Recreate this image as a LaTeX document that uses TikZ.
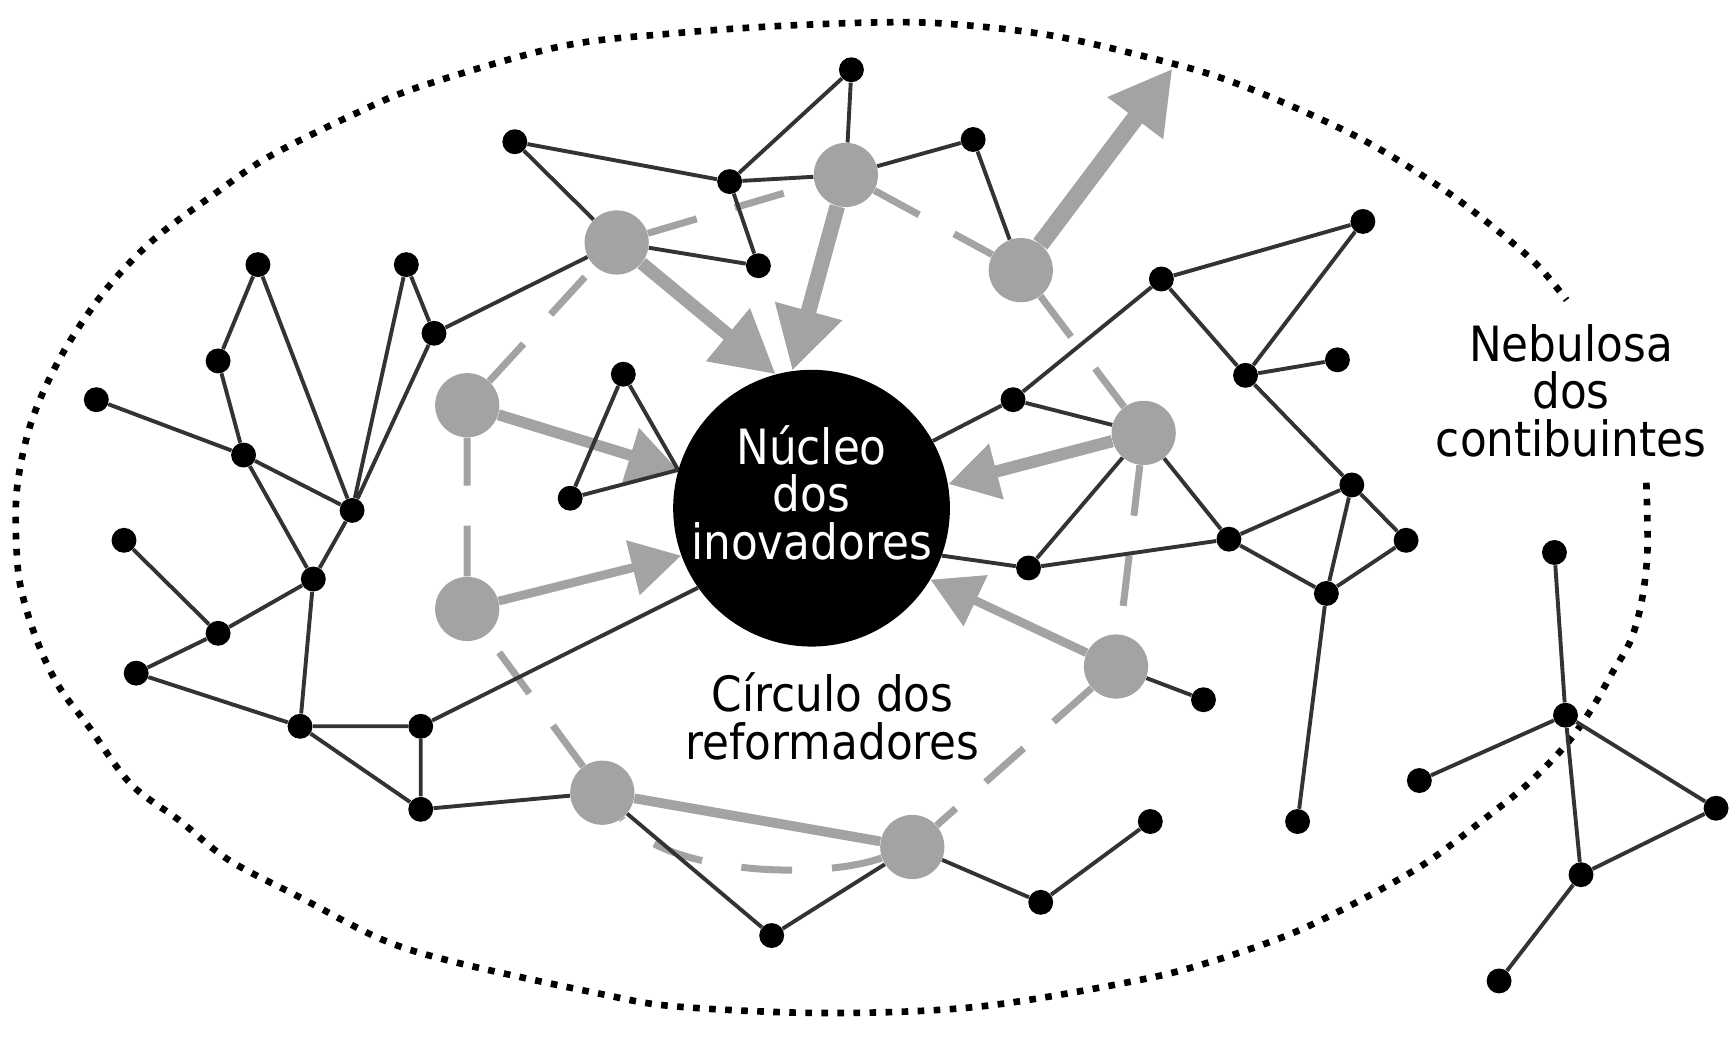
\documentclass[tikz,border=0pt]{standalone}
\usepackage{fontspec}
\setmainfont{DejaVu Sans}[FakeStretch=0.9]
\usetikzlibrary{arrows.meta}
\pgfdeclarelayer{bg}
\pgfsetlayers{bg,main}
\definecolor{ggray}{gray}{0.64}
\definecolor{edgec}{gray}{0.2}
\begin{document}
\begin{tikzpicture}[x=0.02cm,y=-0.02cm,
  bn/.style={circle,fill=black,inner sep=0pt,minimum size=0.45cm},
  gn/.style={circle,fill=ggray,inner sep=0pt,minimum size=1.16cm},
  nucleus/.style={circle,fill=black,inner sep=0pt,minimum size=5cm},
  edge/.style={draw=edgec,line width=2pt},
  garrow/.style={draw=ggray,line width=#1,-{Triangle[length=0.9cm,width=0.98cm]}},
  bigarrow/.style={draw=ggray,line width=#1,-{Triangle[length=1.12cm,width=1.18cm]}},
  gline/.style={draw=ggray,line width=5pt},
  ring/.style={draw=ggray,line width=3.6pt,dash pattern=on 0.92cm off 0.72cm},
  outline/.style={draw=black,line width=0.12cm,dash pattern=on 0.12cm off 0.17cm},
  lbl/.style={align=center,font=\fontsize{25}{24.5}\selectfont,inner sep=0pt}]
\useasboundingbox (0,0) rectangle (1568,941);

% nucleus
\node[nucleus] (N) at (733,459) {};
\node[lbl,text=white] (Ntext) at (733,445) {Núcleo\\dos\\inovadores};

% gray reformer nodes
\node[gn] (G1) at (557,219) {};
\node[gn] (G2) at (764,158) {};
\node[gn] (G3) at (922,244) {};
\node[gn] (G4) at (422,366) {};
\node[gn] (G5) at (1033,391) {};
\node[gn] (G6) at (422,550) {};
\node[gn] (G7) at (1008,602) {};
\node[gn] (G8) at (544,716) {};
\node[gn] (G9) at (824,765) {};
\coordinate (g3tip) at (1059,62);

% black contributor nodes
\node[bn] (b1) at (465,128) {};
\node[bn] (b2) at (659,164) {};
\node[bn] (b3) at (769,63) {};
\node[bn] (b4) at (879,126) {};
\node[bn] (b5) at (685,240) {};
\node[bn] (b6) at (233,239) {};
\node[bn] (b7) at (367,239) {};
\node[bn] (b8) at (392,301) {};
\node[bn] (b9) at (197,326) {};
\node[bn] (b10) at (87,361) {};
\node[bn] (b11) at (220,411) {};
\node[bn] (b12) at (318,461) {};
\node[bn] (b13) at (112,488) {};
\node[bn] (b14) at (283,523) {};
\node[bn] (b15) at (197,572) {};
\node[bn] (b16) at (123,608) {};
\node[bn] (b17) at (271,656) {};
\node[bn] (b18) at (380,656) {};
\node[bn] (b19) at (380,731) {};
\node[bn] (b20) at (563,338) {};
\node[bn] (b21) at (515,450) {};
\node[bn] (b22) at (1049,252) {};
\node[bn] (b23) at (1231,200) {};
\node[bn] (b24) at (1125,339) {};
\node[bn] (b25) at (1208,325) {};
\node[bn] (b26) at (915,361) {};
\node[bn] (b27) at (1221,438) {};
\node[bn] (b28) at (1110,487) {};
\node[bn] (b29) at (1270,488) {};
\node[bn] (b30) at (929,513) {};
\node[bn] (b31) at (1198,536) {};
\node[bn] (b32) at (1087,632) {};
\node[bn] (b33) at (1172,742) {};
\node[bn] (b34) at (1039,742) {};
\node[bn] (b35) at (940,815) {};
\node[bn] (b36) at (697,845) {};
\node[bn] (b37) at (1404,499) {};
\node[bn] (b38) at (1414,646) {};
\node[bn] (b39) at (1282,705) {};
\node[bn] (b40) at (1550,730) {};
\node[bn] (b41) at (1428,790) {};
\node[bn] (b42) at (1354,886) {};

% labels
\node[lbl] (neb) at (1419,353) {Nebulosa\\dos\\contibuintes};
\node[lbl] (circ) at (752,647) {Círculo dos\\reformadores};

\begin{pgfonlayer}{bg}
% nebula outline
\draw[outline] plot[smooth,tension=0.55] coordinates {
 (1487,436) (1488,497) (1483,542) (1473,578) (1456,608) (1439,638) (1415,672)
 (1380,708) (1339,741) (1287,780) (1229,813) (1167,843) (1099,867) (1030,885)
 (886,909) (748,915) (610,909) (539,897) (415,870) (346,849) (270,810)
 (207,777) (162,741) (118,708) (80,656) (55,623) (38,590) (24,551) (16,512)
 (15,445) (28,382) (55,322) (93,265) (138,217) (194,175) (242,142) (318,104)
 (380,78) (506,42) (610,30) (713,23) (817,20) (886,24) (955,33) (1030,50)
 (1099,69) (1167,96) (1236,129) (1305,172) (1356,211) (1390,241) (1415,271)};

% circle of reformers
\draw[ring] (G1) -- (G2) -- (G3) -- (G5) -- (G7) -- (G9)
  .. controls (740,795) and (600,790) .. (G8) -- (G6) -- (G4) -- (G1);
\draw[gline] (G8) -- (G9);

% gray arrows
\draw[bigarrow=6.8pt] (G1) -- (N.105);
\draw[bigarrow=8pt] (G2) -- (N.98);
\draw[bigarrow=9pt] (G3) -- (g3tip);
\draw[garrow=5.7pt] (G4) -- (N.164);
\draw[garrow=4.5pt] (G6) -- (N.200);
\draw[garrow=6.3pt] (G5) -- (N.10);
\draw[garrow=4.5pt] (G7) -- (N.329);

% black edges
\draw[edge] (b1)--(b2) (b1)--(G1) (b2)--(b3) (b3)--(G2) (b2)--(G2) (b2)--(b5)
  (G1)--(b5) (G2)--(b4) (b4)--(G3) (G1)--(b8);
\draw[edge] (b6)--(b9) (b6)--(b12) (b7)--(b8) (b7)--(b12) (b8)--(b12)
  (b9)--(b11) (b10)--(b11) (b11)--(b12) (b11)--(b14) (b12)--(b14)
  (b13)--(b15) (b15)--(b14) (b15)--(b16) (b14)--(b17) (b16)--(b17)
  (b17)--(b18) (b17)--(b19) (b18)--(b19) (b18)--(N.215) (b19)--(G8);
\draw[edge] (b20)--(b21) (b20)--(N.164) (b21)--(N.164);
\draw[edge] (G8)--(b36) (b36)--(G9) (G9)--(b35) (b35)--(b34);
\draw[edge] (N.29)--(b26) (b26)--(b22) (b22)--(b23) (b22)--(b24) (b23)--(b24)
  (b24)--(b25) (b24)--(b27) (b26)--(G5) (G5)--(b30) (N.340)--(b30)
  (b30)--(b28) (G5)--(b28) (b27)--(b28) (b27)--(b29) (b27)--(b31)
  (b28)--(b31) (b29)--(b31) (b31)--(b33) (G7)--(b32);
\draw[edge] (b37)--(b38) (b38)--(b39) (b38)--(b40) (b38)--(b41)
  (b40)--(b41) (b41)--(b42);
\end{pgfonlayer}
\end{tikzpicture}
\end{document}
